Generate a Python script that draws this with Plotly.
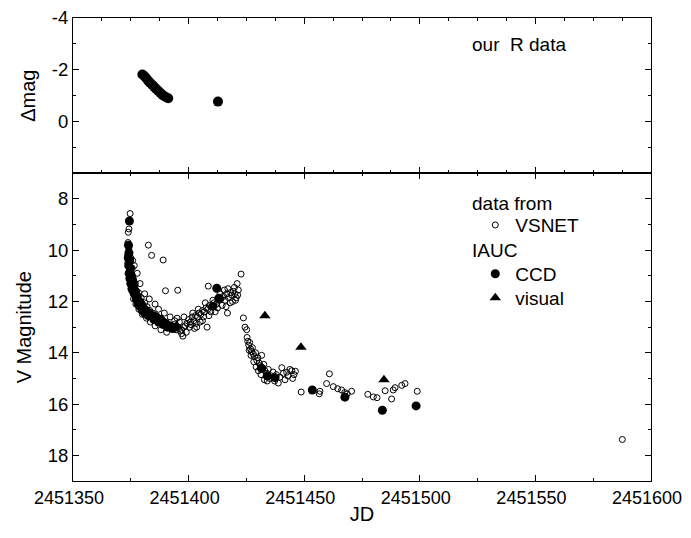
import plotly.graph_objects as go

# ---------------- data ----------------
# top panel: our R data (JD, delta mag)
r_jd = [2451380.0, 2451380.8, 2451381.6, 2451382.5, 2451383.3, 2451384.2, 2451385.0,
        2451385.9, 2451386.8, 2451387.7, 2451388.6, 2451389.5, 2451390.4, 2451391.2,
        2451412.7]
r_dmag = [-1.82, -1.76, -1.68, -1.58, -1.50, -1.42, -1.35,
          -1.27, -1.19, -1.11, -1.04, -0.98, -0.93, -0.90,
          -0.77]

# bottom panel: VSNET (open circles)
vs_jd = [
    2451374.7, 2451374.2, 2451373.9,
    2451373.8, 2451374.0, 2451374.1, 2451374.3, 2451374.2, 2451374.5, 2451374.4, 2451374.7,
    2451375.0, 2451375.2, 2451375.4, 2451375.6, 2451375.9, 2451376.1, 2451376.4, 2451376.8,
    2451377.0, 2451377.3, 2451377.6, 2451378.0, 2451378.3, 2451378.7, 2451379.2, 2451379.5,
    2451380.0, 2451380.4, 2451381.0, 2451381.5, 2451382.0, 2451382.6, 2451383.2, 2451383.8,
    2451384.5, 2451385.2, 2451386.0, 2451386.8, 2451387.5, 2451388.3, 2451389.0, 2451389.8,
    2451390.6, 2451391.4, 2451392.2, 2451393.0, 2451393.8, 2451394.6, 2451395.5, 2451396.3,
    2451397.0, 2451397.8, 2451398.5, 2451399.3, 2451400.0, 2451400.8, 2451401.5, 2451402.2,
    2451403.0, 2451403.8, 2451404.5, 2451405.3, 2451406.0, 2451406.8, 2451407.5, 2451408.3,
    2451409.0, 2451410.0, 2451411.0, 2451412.0, 2451413.0, 2451414.0, 2451415.0, 2451415.8,
    2451416.5, 2451417.3, 2451418.0, 2451418.7, 2451419.3, 2451420.0, 2451420.6, 2451421.0,
    2451421.5, 2451422.7,
    2451376.5, 2451377.8, 2451379.0, 2451381.0, 2451383.0, 2451385.5, 2451387.0, 2451389.5,
    2451392.0, 2451395.0, 2451398.0, 2451401.0, 2451403.5, 2451406.0, 2451408.0, 2451397.0,
    2451382.6, 2451384.0, 2451389.0, 2451390.0, 2451395.3, 2451408.5,
    2451399.0, 2451400.5, 2451401.8, 2451402.5, 2451403.3, 2451404.2, 2451405.0, 2451406.5,
    2451407.2, 2451408.8, 2451409.6, 2451410.5, 2451411.5, 2451412.5, 2451413.6, 2451414.5,
    2451415.5, 2451416.2, 2451417.0, 2451418.2, 2451419.0, 2451419.8, 2451420.3, 2451421.2,
    2451416.8, 2451397.5, 2451396.0, 2451394.0,
    2451373.6, 2451373.7, 2451373.9, 2451374.9, 2451375.5, 2451376.2, 2451377.2, 2451378.5,
    2451380.0, 2451381.8, 2451383.5, 2451385.5, 2451388.0, 2451390.5, 2451375.8,
    2451423.7, 2451424.4, 2451425.1, 2451425.3, 2451425.6, 2451426.0, 2451426.4, 2451426.8,
    2451427.2, 2451427.6, 2451428.0, 2451428.5, 2451429.0, 2451429.5, 2451430.0, 2451430.5,
    2451431.0, 2451431.6, 2451432.0, 2451432.5, 2451433.0, 2451433.8, 2451434.5, 2451435.2,
    2451435.8, 2451436.5, 2451437.2, 2451438.0, 2451438.8, 2451439.5, 2451440.3, 2451441.0,
    2451441.7, 2451442.4, 2451443.0, 2451443.8, 2451444.6, 2451445.0, 2451445.6, 2451446.2,
    2451426.2, 2451427.0, 2451428.2, 2451429.2, 2451430.2, 2451431.3, 2451432.8, 2451434.0,
    2451448.7, 2451456.5, 2451456.8, 2451459.7, 2451460.9, 2451462.6, 2451464.5, 2451466.2,
    2451467.5, 2451468.6, 2451470.5, 2451477.5, 2451479.9, 2451481.5, 2451485.0, 2451487.8,
    2451488.5, 2451489.3, 2451492.2, 2451493.6, 2451498.9,
    2451587.6]
vs_mag = [
    8.57, 9.17, 9.3,
    9.70, 9.85, 10.00, 10.20, 9.90, 10.40, 10.60, 10.80,
    10.30, 10.90, 11.00, 10.70, 11.20, 11.10, 11.35, 11.50,
    11.30, 11.60, 11.75, 11.80, 11.65, 11.95, 12.00, 11.85,
    12.10, 12.20, 12.05, 12.30, 12.20, 12.40, 12.35, 12.50,
    12.45, 12.60, 12.55, 12.70, 12.65, 12.80, 12.75, 12.90,
    12.85, 13.00, 12.95, 13.05, 12.90, 13.10, 13.00, 13.15,
    13.10, 13.00, 12.95, 12.85, 12.70, 12.80, 12.60, 12.75,
    12.55, 12.60, 12.45, 12.50, 12.35, 12.40, 12.25, 12.30,
    12.15, 12.20, 12.05, 12.10, 11.95, 11.90, 11.80, 11.95,
    11.70, 11.85, 12.05, 11.75, 11.60, 11.70, 11.85, 11.30,
    11.55, 10.93,
    10.60, 10.90, 11.30, 11.70, 11.90, 12.10, 12.30, 12.45,
    12.60, 12.65, 12.60, 12.90, 13.00, 12.75, 13.00, 13.25,
    9.80, 10.20, 10.38, 11.58, 11.56, 11.40,
    13.20, 13.00, 12.45, 13.05, 12.85, 12.30, 12.80, 12.60,
    12.05, 12.55, 12.40, 11.95, 12.40, 12.25, 11.70, 12.15,
    11.55, 12.20, 11.50, 11.65, 12.00, 11.45, 11.95, 11.75,
    12.45, 13.35, 12.80, 12.75,
    10.20, 10.50, 10.90, 11.30, 11.60, 11.90, 12.10, 12.30,
    12.50, 12.65, 12.80, 12.95, 13.10, 13.20, 10.40,
    12.64, 13.00, 13.10, 13.40, 13.55, 13.70, 13.60, 13.85,
    13.95, 13.80, 14.05, 14.15, 14.00, 14.30, 14.20, 14.40,
    14.50, 14.10, 14.60, 14.45, 14.70, 14.80, 14.65, 15.00,
    14.90, 14.75, 15.10, 14.85, 15.18, 14.95, 14.58, 14.80,
    15.05, 14.76, 14.90, 14.65, 14.70, 15.00, 14.85, 14.72,
    13.90, 14.10, 14.35, 14.55, 14.70, 14.85, 15.05, 15.10,
    15.53, 15.60, 15.50, 15.20, 14.82, 15.32, 15.40, 15.45,
    15.55, 15.60, 15.50, 15.62, 15.72, 15.75, 15.48, 15.80,
    15.45, 15.36, 15.27, 15.20, 15.50,
    17.38]

# bottom panel: IAUC CCD (filled circles)
ccd_jd = [2451374.4, 2451374.0, 2451374.2, 2451374.5, 2451374.8, 2451375.3, 2451375.8,
          2451376.3, 2451377.0, 2451377.8, 2451378.6, 2451379.5, 2451380.5, 2451381.5,
          2451383.0, 2451384.5, 2451386.0, 2451388.0, 2451390.0, 2451392.0, 2451394.0,
          2451373.9, 2451374.1, 2451374.3, 2451374.6, 2451375.0, 2451375.5, 2451376.5,
          2451377.4, 2451378.2, 2451379.0, 2451380.0, 2451381.0, 2451382.5, 2451385.0,
          2451387.0, 2451389.0, 2451391.0, 2451393.0,
          2451410.5, 2451412.2, 2451413.1,
          2451431.5, 2451434.0, 2451437.4,
          2451453.5, 2451467.6, 2451483.8, 2451498.4]
ccd_mag = [8.86, 9.80, 10.10, 10.40, 10.70, 11.00, 11.20,
           11.40, 11.60, 11.80, 12.00, 12.10, 12.25, 12.35,
           12.45, 12.55, 12.60, 12.75, 12.85, 12.95, 13.00,
           10.30, 10.60, 10.90, 11.10, 11.30, 11.50, 11.70,
           11.90, 12.10, 12.20, 12.35, 12.45, 12.55, 12.70,
           12.80, 12.90, 13.00, 13.05,
           12.18, 11.48, 11.87,
           14.60, 14.90, 14.97,
           15.45, 15.73, 16.24, 16.07]

# bottom panel: IAUC visual (filled triangles)
vis_jd = [2451381.0, 2451388.4, 2451394.9, 2451433.0, 2451448.6, 2451484.5]
vis_mag = [12.36, 12.67, 12.94, 12.55, 13.78, 15.05]

x_ticks = [2451350, 2451400, 2451450, 2451500, 2451550, 2451600]
v_ticks = [8, 10, 12, 14, 16, 18]
d_ticks = [-4, -2, 0]
d_labels = ["-4", "-2", "0"]

# ---------------- figure ----------------
FONT = "Liberation Sans, Arial, Helvetica, sans-serif"
fig = go.Figure()

fig.add_trace(go.Scatter(x=r_jd, y=r_dmag, mode="markers", xaxis="x2", yaxis="y2",
                         marker=dict(symbol="circle", size=10, color="black"),
                         showlegend=False, hoverinfo="x+y"))

fig.add_trace(go.Scatter(x=vs_jd, y=vs_mag, mode="markers", name="VSNET",
                         legend="legend",
                         marker=dict(symbol="circle-open", size=6, color="black",
                                     line=dict(width=1, color="black"))))
fig.add_trace(go.Scatter(x=ccd_jd, y=ccd_mag, mode="markers", name="CCD",
                         legend="legend2",
                         marker=dict(symbol="circle", size=9, color="black")))
fig.add_trace(go.Scatter(x=vis_jd, y=vis_mag, mode="markers", name="visual",
                         legend="legend3",
                         marker=dict(symbol="triangle-up", size=10, color="black")))

split = 0.6645
axis_common = dict(showline=True, linecolor="black", linewidth=1, mirror="ticks",
                   ticks="inside", tickcolor="black", ticklen=6, tickwidth=1,
                   showgrid=False, zeroline=False, automargin=False,
                   ticklabeloverflow="allow",
                   tickfont=dict(family=FONT, size=18.5, color="black"))

leg_common = dict(xanchor="left", yanchor="middle", bgcolor="rgba(0,0,0,0)",
                  borderwidth=0, font=dict(family=FONT, size=19), tracegroupgap=0)
LEG_X = 0.696

fig.update_layout(
    width=675, height=522,
    margin=dict(l=65, r=32, t=10, b=49),
    paper_bgcolor="white", plot_bgcolor="white",
    font=dict(family=FONT, size=19, color="black"),
    xaxis=dict(axis_common, range=[2451350, 2451600], tickvals=x_ticks,
               ticktext=[str(v) for v in x_ticks], anchor="y", domain=[0, 1],
               tickfont=dict(family=FONT, size=18, color="black"), ticklabelshift=-4,
               minor=dict(dtick=25, tick0=2451350, ticks="inside", ticklen=3,
                          tickcolor="black"),
               title=dict(text="JD", font=dict(family=FONT, size=20), standoff=0)),
    yaxis=dict(axis_common, range=[19, 7], tickvals=v_ticks, domain=[0, split],
               anchor="x",
               minor=dict(dtick=1, tick0=7, ticks="inside", ticklen=3, tickcolor="black"),
               title=dict(text="V Magnitude", font=dict(family=FONT, size=20), standoff=10)),
    xaxis2=dict(axis_common, range=[2451350, 2451600], tickvals=x_ticks, matches="x",
                showticklabels=False, anchor="y2", domain=[0, 1],
                minor=dict(dtick=12.5, tick0=2451350, ticks="inside", ticklen=3,
                           tickcolor="black")),
    yaxis2=dict(axis_common, range=[2, -4], tickvals=d_ticks, ticktext=d_labels,
                domain=[split, 1], anchor="x2",
                minor=dict(dtick=1, tick0=-4, ticks="inside", ticklen=3, tickcolor="black"),
                title=dict(text="Δmag", font=dict(family=FONT, size=20), standoff=10)),
    legend=dict(leg_common, x=LEG_X, y=0.5527),
    legend2=dict(leg_common, x=LEG_X, y=0.4473),
    legend3=dict(leg_common, x=LEG_X, y=0.3957),
    annotations=[
        dict(text="our  R data", xref="paper", yref="paper", x=0.687, y=0.942,
             xanchor="left", yanchor="middle", showarrow=False,
             font=dict(family=FONT, size=19, color="black")),
        dict(text="data from", xref="paper", yref="paper", x=0.687, y=0.6,
             xanchor="left", yanchor="middle", showarrow=False,
             font=dict(family=FONT, size=19, color="black")),
        dict(text="IAUC", xref="paper", yref="paper", x=0.687, y=0.4989,
             xanchor="left", yanchor="middle", showarrow=False,
             font=dict(family=FONT, size=19, color="black")),
    ],
)

fig.write_html("out.html")
